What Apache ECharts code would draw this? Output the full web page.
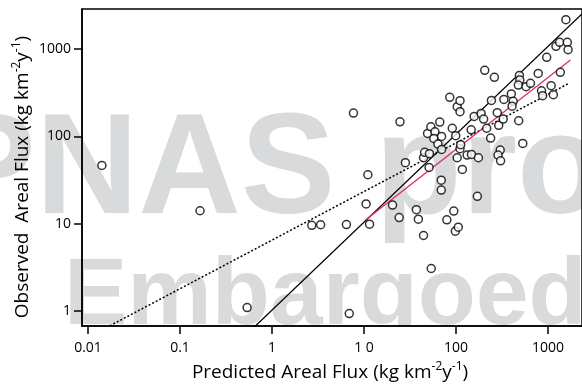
<!DOCTYPE html>
<html>
<head>
<meta charset="utf-8">
<script src="https://cdn.jsdelivr.net/npm/echarts@6/dist/echarts.min.js"></script>
<style>
  html, body { margin: 0; background: #fff; }
  #chart { width: 582px; height: 389px; }
</style>
</head>
<body>
<div id="chart"></div>
<script>
// predicted vs observed areal flux (kg km-2 y-1)
const predicted = [
  0.0142, 0.168, 0.55, 7.2, 8.0, 2.8, 3.5, 6.7, 12, 11,
  11.5, 25.8, 29.6, 21.4, 25.3, 39, 41, 46.7, 56.7, 73,
  73, 53.7, 84, 100, 104, 112, 181, 124, 109, 117,
  119, 140, 156, 186, 46.7, 48, 54.2, 51.7, 56.2, 62.2,
  60.5, 70.3, 73.6, 67.1, 73.6, 96.3, 105, 90.4, 109, 117,
  117, 167, 155, 199, 212, 229, 218, 278, 258, 253,
  299, 310, 347, 353, 322, 305, 325, 426, 446, 434,
  513, 568, 522, 527, 508, 617, 690, 838, 911, 937,
  1038, 1161, 1227, 1310, 1437, 1463, 1744, 1778, 1683
];
const observed = [
  46.6, 14.1, 1.1, 0.94, 185, 9.6, 9.75, 9.8, 9.9, 16.9,
  36.4, 147, 50, 16.4, 11.8, 14.5, 11.3, 7.35, 3.08, 31.6,
  24.3, 44.2, 11.1, 14, 8.24, 9.16, 20.6, 41.9, 57, 72.3,
  80.4, 61.1, 62.2, 57, 57, 65.7, 63.4, 108, 129, 113,
  94.8, 146, 100, 81.7, 71, 124, 102, 280, 219, 256,
  192, 169, 119, 183, 158, 124, 571, 474, 258, 95.7,
  187, 134, 158, 265, 69.8, 61.1, 52.6, 306, 252, 222,
  151, 83.2, 499, 441, 387, 371, 405, 526, 333, 292,
  803, 380, 300, 1073, 1192, 541, 1192, 982, 2166
];

// reference lines (end points)
const oneToOne = [[0.6, 0.6], [3000, 3000]];
const dottedFit = [[0.0173, 0.68], [1816, 405]];
const magentaFit = [[10.9, 11.1], [1888, 748]];

const xTickLabels = ["0.01", "0.1", "1", "1 0", "100", "1000"];
const yTickLabels = ["1", "10", "100", "1000"];

const chart = echarts.init(document.getElementById("chart"));
const font = "'Open Sans', sans-serif";
const points = predicted.map((x, i) => [x, observed[i]]);

// plot frame: 0.01 at x=88, 1000 at x=548 ; 1 at y=311.2, 1000 at y=49
const xDec = 92;
const yDec = 87.4;

const titleStyle = {
  fill: "#000", fontFamily: font, fontSize: 19, lineHeight: 24,
  align: "center", verticalAlign: "middle",
  rich: { sup: { fontSize: 12, fontFamily: font, verticalAlign: "top", fill: "#000" } }
};

const option = {
  animation: false,
  grid: [
    // data area (right side runs off the picture)
    { left: 82, top: 9, width: 503, height: 317, show: true,
      borderColor: "#000", borderWidth: 1.5 },
    // decade frame used only for ticks and labels
    { left: 88, top: 49, width: 460, height: 3 * yDec }
  ],
  xAxis: [
    {
      type: "log", gridIndex: 0,
      min: Math.pow(10, -2 - 6 / xDec),
      max: Math.pow(10, 3 + 37 / xDec),
      axisLine: { lineStyle: { color: "#000", width: 1.5 } },
      axisTick: { show: false },
      axisLabel: { show: false },
      splitLine: { show: false }
    },
    {
      type: "log", gridIndex: 1, min: 0.01, max: 1000,
      offset: 326 - (49 + 3 * yDec),
      axisLine: { show: false },
      axisTick: { length: 8, lineStyle: { color: "#000", width: 1.5 } },
      axisLabel: {
        margin: 15, color: "#000", fontFamily: font, fontSize: 14,
        formatter: (v) => xTickLabels[Math.round(Math.log10(v)) + 2]
      },
      splitLine: { show: false }
    }
  ],
  yAxis: [
    {
      type: "log", gridIndex: 0,
      min: Math.pow(10, -(326 - (49 + 3 * yDec)) / yDec),
      max: Math.pow(10, 3 + 40 / yDec),
      axisLine: { lineStyle: { color: "#000", width: 1.5 } },
      axisTick: { show: false },
      axisLabel: { show: false },
      splitLine: { show: false }
    },
    {
      type: "log", gridIndex: 1, min: 1, max: 1000,
      offset: 6,
      axisLine: { show: false },
      axisTick: { length: 8, lineStyle: { color: "#000", width: 1.5 } },
      axisLabel: {
        margin: 11, color: "#000", fontFamily: font, fontSize: 14,
        formatter: (v) => yTickLabels[Math.round(Math.log10(v))]
      },
      splitLine: { show: false }
    }
  ],
  graphic: [
    // watermark
    { type: "text", x: -59, y: 174, z: -10,
      style: { text: "PNAS proof", fill: "#d9dadb", fontSize: 142, fontWeight: "bold",
        fontFamily: "'Liberation Sans', Arial", verticalAlign: "middle" } },
    { type: "text", x: 64, y: 298, z: -10,
      style: { text: "Embargoed", fill: "#d9dadb", fontSize: 95, fontWeight: "bold",
        fontFamily: "'Liberation Sans', Arial", verticalAlign: "middle" } },
    { type: "rect", z: -9, shape: { x: 0, y: 327, width: 582, height: 62 },
      style: { fill: "#fff" } },
    // axis titles
    { type: "text", x: 330, y: 373, z: 10,
      style: Object.assign({ text: "Predicted Areal Flux (kg km{sup|-2}y{sup|-1})" }, titleStyle) },
    { type: "text", x: 23, y: 177, z: 10, rotation: Math.PI / 2,
      style: Object.assign({ text: "Observed  Areal Flux (kg km{sup|-2}y{sup|-1})" }, titleStyle) }
  ],
  series: [
    {
      type: "line", xAxisIndex: 0, yAxisIndex: 0, data: oneToOne,
      symbol: "none", lineStyle: { color: "#000", width: 1.3 }, z: 3
    },
    {
      type: "line", xAxisIndex: 0, yAxisIndex: 0, data: dottedFit,
      symbol: "none", lineStyle: { color: "#000", width: 1.5, type: [2, 2] }, z: 3
    },
    {
      type: "line", xAxisIndex: 0, yAxisIndex: 0, data: magentaFit,
      symbol: "none", lineStyle: { color: "#e3256f", width: 1.3 }, z: 3
    },
    {
      type: "scatter", xAxisIndex: 0, yAxisIndex: 0, data: points,
      symbol: "circle", symbolSize: 8,
      itemStyle: { color: "#fff", borderColor: "#000", borderWidth: 1.5 }, z: 5
    }
  ]
};

chart.setOption(option);
</script>
</body>
</html>
